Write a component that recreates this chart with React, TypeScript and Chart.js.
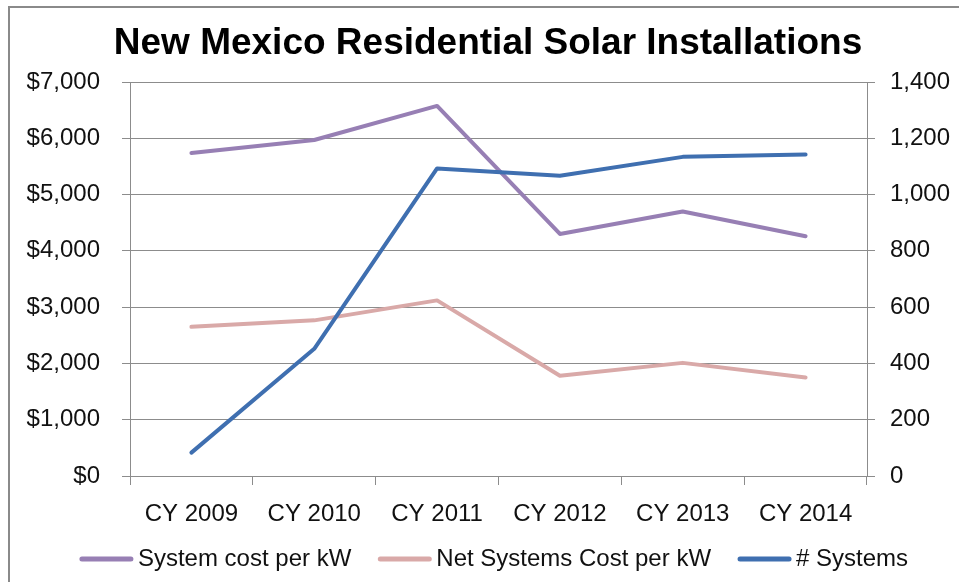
import { useEffect, useRef } from 'react';
import { Chart, registerables } from 'chart.js';

Chart.register(...registerables);

const categories = ['CY 2009', 'CY 2010', 'CY 2011', 'CY 2012', 'CY 2013', 'CY 2014'];
const systemCostPerKW = [5740, 5970, 6575, 4300, 4700, 4260];
const netSystemsCostPerKW = [2650, 2765, 3120, 1780, 2010, 1750];
const numSystems = [83, 452, 1093, 1067, 1134, 1142];
const seriesLabels = ['System cost per kW', 'Net Systems Cost per kW', '# Systems'];
const seriesColors = ['#977fb4', '#d9a9a8', '#3f6fb0'];
const titleText = 'New Mexico Residential Solar Installations';

const FONT = '"Liberation Sans", Arial, sans-serif';
const GRID = '#8c8c8c';
const TEXT = '#111111';

const decorPlugin = {
  id: 'decor',
  afterDraw(chart: any) {
    const ctx = chart.ctx as CanvasRenderingContext2D;
    ctx.save();
    // outer frame (top & left edges visible)
    ctx.fillStyle = '#8a8a8a';
    ctx.fillRect(8, 6, 951, 2);
    ctx.fillRect(8, 6, 2, 576);
    // title
    ctx.fillStyle = '#000';
    ctx.font = `bold 37px ${FONT}`;
    ctx.textAlign = 'center';
    ctx.textBaseline = 'alphabetic';
    ctx.fillText(titleText, 488, 54);
    // legend
    ctx.font = `24px ${FONT}`;
    ctx.textBaseline = 'middle';
    ctx.textAlign = 'left';
    const lineW = 53;
    const gapText = 5;
    const gapItem = 27;
    const datasets = chart.data.datasets;
    const widths = datasets.map((d: any) => lineW + gapText + ctx.measureText(d.label).width);
    const total = widths.reduce((a: number, b: number) => a + b, 0) + gapItem * (datasets.length - 1);
    let x = 494 - total / 2;
    const y = 559;
    datasets.forEach((d: any, i: number) => {
      ctx.strokeStyle = d.borderColor;
      ctx.lineWidth = 5;
      ctx.lineCap = 'round';
      ctx.beginPath();
      ctx.moveTo(x + 2, y);
      ctx.lineTo(x + lineW - 2, y);
      ctx.stroke();
      ctx.fillStyle = TEXT;
      ctx.fillText(d.label, x + lineW + gapText, y);
      x += widths[i] + gapItem;
    });
    ctx.restore();
  },
};

export default function App() {
  const ref = useRef<HTMLCanvasElement | null>(null);

  useEffect(() => {
    if (!ref.current) return;
    const chart = new Chart(ref.current, {
      type: 'line',
      data: {
        labels: categories,
        datasets: [
          {
            label: seriesLabels[0],
            data: systemCostPerKW,
            borderColor: seriesColors[0],
            backgroundColor: seriesColors[0],
            borderWidth: 4,
            pointRadius: 0,
            yAxisID: 'y',
            order: 3,
          },
          {
            label: seriesLabels[1],
            data: netSystemsCostPerKW,
            borderColor: seriesColors[1],
            backgroundColor: seriesColors[1],
            borderWidth: 4,
            pointRadius: 0,
            yAxisID: 'y',
            order: 2,
          },
          {
            label: seriesLabels[2],
            data: numSystems,
            borderColor: seriesColors[2],
            backgroundColor: seriesColors[2],
            borderWidth: 4,
            pointRadius: 0,
            yAxisID: 'y1',
            order: 1,
          },
        ],
      },
      options: {
        animation: false,
        responsive: false,
        maintainAspectRatio: false,
        layout: { padding: { top: 82, left: 0, right: 0, bottom: 0 } },
        elements: { line: { tension: 0, borderJoinStyle: 'round', borderCapStyle: 'round' } },
        plugins: {
          legend: { display: false },
          title: { display: false },
          tooltip: { enabled: false },
        },
        scales: {
          x: {
            offset: true,
            grid: {
              offset: true,
              drawOnChartArea: false,
              drawTicks: true,
              tickLength: 9,
              color: GRID,
            },
            border: { display: true, color: GRID },
            ticks: { color: TEXT, font: { family: FONT, size: 24 }, padding: 15, maxRotation: 0 },
            afterFit: (s: any) => { s.height = 106; },
          },
          y: {
            position: 'left',
            min: 0,
            max: 7000,
            ticks: {
              stepSize: 1000,
              color: TEXT,
              font: { family: FONT, size: 24 },
              padding: 22,
              callback: (v: any) => '$' + Number(v).toLocaleString('en-US'),
            },
            grid: { color: GRID, tickLength: 8 },
            border: { display: true, color: GRID },
            afterFit: (s: any) => { s.width = 130; },
          },
          y1: {
            position: 'right',
            min: 0,
            max: 1400,
            ticks: {
              stepSize: 200,
              color: TEXT,
              font: { family: FONT, size: 24 },
              padding: 15,
              callback: (v: any) => Number(v).toLocaleString('en-US'),
            },
            grid: { drawOnChartArea: false, color: GRID, tickLength: 8 },
            border: { display: true, color: GRID },
            afterFit: (s: any) => { s.width = 92; },
          },
        },
      },
      plugins: [decorPlugin],
    });
    return () => chart.destroy();
  }, []);

  return (
    <div style={{ position: 'fixed', left: 0, top: 0, width: 959, height: 582, background: '#fff' }}>
      <canvas ref={ref} width={959} height={582} style={{ display: 'block', width: 959, height: 582 }} />
    </div>
  );
}
